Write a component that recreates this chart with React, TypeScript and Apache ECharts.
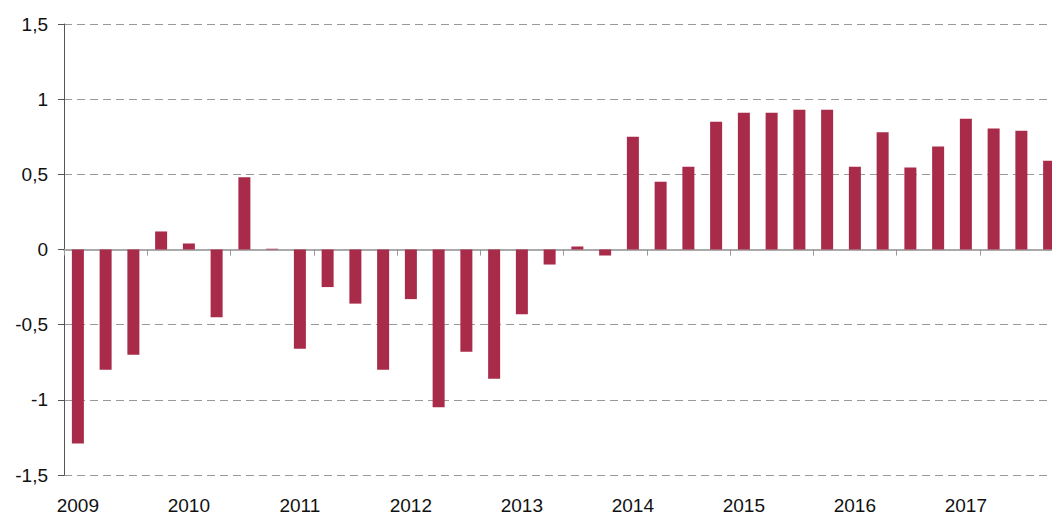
import React, { useEffect, useRef } from "react";
import * as echarts from "echarts";

const years = ["2009", "2010", "2011", "2012", "2013", "2014", "2015", "2016", "2017"];
const quarters = ["Q1", "Q2", "Q3", "Q4"];
const values = [
  -1.29, -0.8, -0.7, 0.12,
  0.04, -0.45, 0.48, 0.005,
  -0.66, -0.25, -0.36, -0.8,
  -0.33, -1.05, -0.68, -0.86,
  -0.43, -0.1, 0.02, -0.04,
  0.75, 0.45, 0.55, 0.85,
  0.91, 0.91, 0.93, 0.93,
  0.55, 0.78, 0.545, 0.685,
  0.87, 0.805, 0.79, 0.59,
];
const categories = years.flatMap((y) => quarters.map((q) => `${y} ${q}`));

export default function App() {
  const ref = useRef<HTMLDivElement>(null);
  useEffect(() => {
    if (!ref.current) return;
    const chart = echarts.init(ref.current, null, { renderer: "svg" });
    const font = "'Liberation Sans', Arial, sans-serif";
    chart.setOption({
      animation: false,
      backgroundColor: "#ffffff",
      grid: { left: 64, right: 0, top: 24, bottom: 40, containLabel: false },
      xAxis: [
        {
          type: "category",
          data: categories,
          axisLine: { onZero: true, lineStyle: { color: "#aaaaaa", width: 2 } },
          axisTick: { show: true, alignWithLabel: false, length: 6, lineStyle: { color: "#999999", width: 1 } },
          axisLabel: { show: false },
          splitLine: { show: false },
        },
        {
          type: "category",
          data: categories,
          position: "bottom",
          axisLine: { show: false, onZero: false },
          axisTick: { show: false },
          axisLabel: {
            show: true,
            interval: 0,
            margin: 21,
            fontSize: 19,
            color: "#111111",
            fontFamily: font,
            formatter: (v: string) => (v.endsWith("Q1") ? v.split(" ")[0] : ""),
          },
          splitLine: { show: false },
        },
      ],
      yAxis: {
        type: "value",
        min: -1.5,
        max: 1.5,
        interval: 0.5,
        axisLine: { show: true, lineStyle: { color: "#555555", width: 1 } },
        axisTick: { show: true, length: 6, lineStyle: { color: "#555555" } },
        axisLabel: {
          fontSize: 19,
          color: "#111111",
          fontFamily: font,
          margin: 16,
          formatter: (v: number) => String(v).replace(".", ","),
        },
        splitLine: { show: true, lineStyle: { color: "#999999", type: [8, 5], width: 1 } },
      },
      series: [
        {
          type: "bar",
          data: values,
          xAxisIndex: 0,
          barWidth: 12,
          itemStyle: { color: "#A92B4A" },
        },
      ],
    });
    return () => chart.dispose();
  }, []);
  return (
    <div
      ref={ref}
      style={{ position: "fixed", left: 0, top: 0, width: 1063, height: 515, background: "#fff" }}
    />
  );
}
